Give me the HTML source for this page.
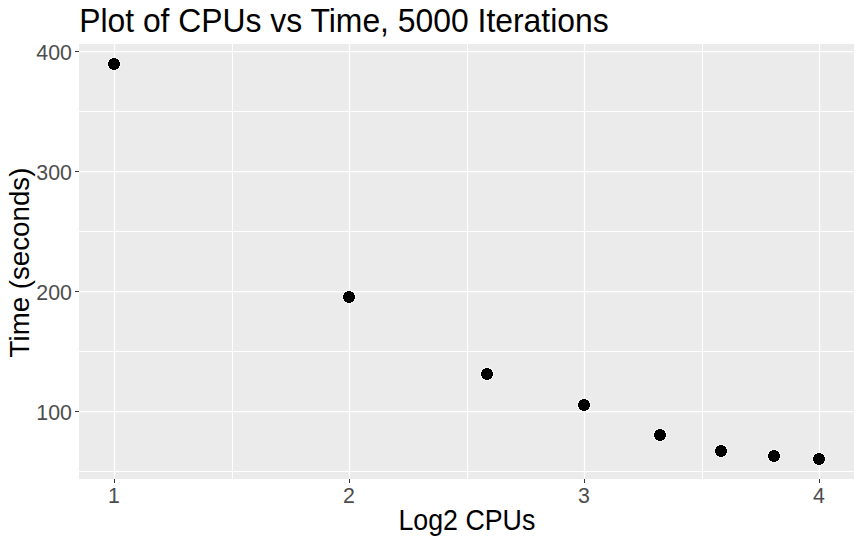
<!DOCTYPE html>
<html><head><meta charset="utf-8"><style>
html,body{margin:0;padding:0;background:#fff;width:862px;height:543px;overflow:hidden}
svg{display:block}
text{font-family:"Liberation Sans",sans-serif}
.at{font-size:21.33px;fill:#4D4D4D}
.title{font-size:32px;fill:#000}
.axt{font-size:26.67px;fill:#000}
</style></head><body>
<svg width="862" height="543" viewBox="0 0 862 543">
<rect x="79" y="44" width="775" height="435" fill="#EBEBEB"/>
<line x1="79" x2="854" y1="111.5" y2="111.5" stroke="#fff" stroke-width="1"/>
<line x1="79" x2="854" y1="231.5" y2="231.5" stroke="#fff" stroke-width="1"/>
<line x1="79" x2="854" y1="351.5" y2="351.5" stroke="#fff" stroke-width="1"/>
<line x1="79" x2="854" y1="471.5" y2="471.5" stroke="#fff" stroke-width="1"/>
<line y1="44" y2="479" x1="232.5" x2="232.5" stroke="#fff" stroke-width="1"/>
<line y1="44" y2="479" x1="467.5" x2="467.5" stroke="#fff" stroke-width="1"/>
<line y1="44" y2="479" x1="702.5" x2="702.5" stroke="#fff" stroke-width="1"/>
<line x1="79" x2="854" y1="51.5" y2="51.5" stroke="#fff" stroke-width="1.25"/>
<line x1="79" x2="854" y1="171.5" y2="171.5" stroke="#fff" stroke-width="1.25"/>
<line x1="79" x2="854" y1="291.5" y2="291.5" stroke="#fff" stroke-width="1.25"/>
<line x1="79" x2="854" y1="411.5" y2="411.5" stroke="#fff" stroke-width="1.25"/>
<line y1="44" y2="479" x1="114.5" x2="114.5" stroke="#fff" stroke-width="1.25"/>
<line y1="44" y2="479" x1="349.5" x2="349.5" stroke="#fff" stroke-width="1.25"/>
<line y1="44" y2="479" x1="584.5" x2="584.5" stroke="#fff" stroke-width="1.25"/>
<line y1="44" y2="479" x1="819.5" x2="819.5" stroke="#fff" stroke-width="1.25"/>
<circle cx="114" cy="64" r="6.5" fill="none" stroke="#fff" stroke-opacity="0.6" stroke-width="1"/>
<circle cx="114" cy="64" r="6.0" fill="#000" shape-rendering="crispEdges"/>
<circle cx="349" cy="297" r="6.5" fill="none" stroke="#fff" stroke-opacity="0.6" stroke-width="1"/>
<circle cx="349" cy="297" r="6.0" fill="#000" shape-rendering="crispEdges"/>
<circle cx="487" cy="374" r="6.5" fill="none" stroke="#fff" stroke-opacity="0.6" stroke-width="1"/>
<circle cx="487" cy="374" r="6.0" fill="#000" shape-rendering="crispEdges"/>
<circle cx="584" cy="405" r="6.5" fill="none" stroke="#fff" stroke-opacity="0.6" stroke-width="1"/>
<circle cx="584" cy="405" r="6.0" fill="#000" shape-rendering="crispEdges"/>
<circle cx="660" cy="435" r="6.5" fill="none" stroke="#fff" stroke-opacity="0.6" stroke-width="1"/>
<circle cx="660" cy="435" r="6.0" fill="#000" shape-rendering="crispEdges"/>
<circle cx="721" cy="451" r="6.5" fill="none" stroke="#fff" stroke-opacity="0.6" stroke-width="1"/>
<circle cx="721" cy="451" r="6.0" fill="#000" shape-rendering="crispEdges"/>
<circle cx="774" cy="456" r="6.5" fill="none" stroke="#fff" stroke-opacity="0.6" stroke-width="1"/>
<circle cx="774" cy="456" r="6.0" fill="#000" shape-rendering="crispEdges"/>
<circle cx="819" cy="459" r="6.5" fill="none" stroke="#fff" stroke-opacity="0.6" stroke-width="1"/>
<circle cx="819" cy="459" r="6.0" fill="#000" shape-rendering="crispEdges"/>
<line x1="75" x2="79" y1="51.5" y2="51.5" stroke="#333" stroke-width="1"/>
<text x="71.9" y="59.50" text-anchor="end" class="at">400</text>
<line x1="75" x2="79" y1="171.5" y2="171.5" stroke="#333" stroke-width="1"/>
<text x="71.9" y="179.50" text-anchor="end" class="at">300</text>
<line x1="75" x2="79" y1="291.5" y2="291.5" stroke="#333" stroke-width="1"/>
<text x="71.9" y="299.50" text-anchor="end" class="at">200</text>
<line x1="75" x2="79" y1="411.5" y2="411.5" stroke="#333" stroke-width="1"/>
<text x="71.9" y="419.50" text-anchor="end" class="at">100</text>
<line y1="479" y2="483" x1="114.5" x2="114.5" stroke="#333" stroke-width="1"/>
<text x="114.00" y="503" text-anchor="middle" class="at">1</text>
<line y1="479" y2="483" x1="349.5" x2="349.5" stroke="#333" stroke-width="1"/>
<text x="349.00" y="503" text-anchor="middle" class="at">2</text>
<line y1="479" y2="483" x1="584.5" x2="584.5" stroke="#333" stroke-width="1"/>
<text x="584.00" y="503" text-anchor="middle" class="at">3</text>
<line y1="479" y2="483" x1="819.5" x2="819.5" stroke="#333" stroke-width="1"/>
<text x="819.00" y="503" text-anchor="middle" class="at">4</text>
<text transform="translate(79.15,32.06) scale(0.9962,1.034)" class="title">Plot of CPUs vs Time, 5000 Iterations</text>
<text transform="translate(466.9,530.2) scale(1.004,1.08)" text-anchor="middle" class="axt">Log2 CPUs</text>
<text transform="translate(28.9,262.5) rotate(-90) scale(1.039,1.07)" text-anchor="middle" class="axt">Time (seconds)</text>
</svg></body></html>
